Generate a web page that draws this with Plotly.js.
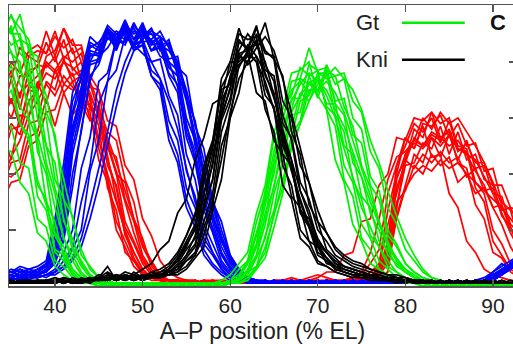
<!DOCTYPE html>
<html>
<head>
<meta charset="utf-8">
<script src="https://cdn.plot.ly/plotly-3.0.1.min.js"></script>
<style>
html, body { margin: 0; padding: 0; overflow: hidden; background: #fff; width: 513px; height: 344px; }
#chart { width: 520px; height: 344px; }
</style>
</head>
<body>
<div id="chart"></div>
<script>
// A-P position (% EL) of each sample
const apPosition = [34,35,36,37,38,39,40,41,42,43, 44,45,46,47,48,49,50,51,52,53,
  54,55,56,57,58,59,60,61,62,63, 64,65,66,67,68,69,70,71,72,73,
  74,75,76,77,78,79,80,81,82,83, 84,85,86,87,88,89,90,91,92,93];

// Hb (red) profiles, % of max
const hbProfiles = [
  [62,74,63,77,78,87,80,88,77,80, 66,57,35,27,12,9,4,3,2,2, 1,2,1,2,2,1,2,1,2,1, 2,1,2,2,1,2,1,2,2,1, 2,2,3,6,16,43,50,58,55,60, 51,59,49,48,35,30,16,11,6,4],
  [45,56,57,71,71,82,84,92,86,86, 73,65,45,35,18,12,6,3,2,2, 2,1,2,1,1,2,1,2,1,2, 1,2,1,1,2,1,2,1,2,2, 3,4,8,13,33,43,53,49,58,57, 61,53,58,50,51,41,42,30,27,16],
  [35,44,45,58,59,73,70,81,73,75, 63,60,43,36,21,15,8,4,3,2, 2,1,1,2,1,2,1,1,2,1, 2,1,2,1,1,2,2,1,1,2, 1,2,2,4,5,25,36,47,44,53, 46,54,45,52,42,43,33,32,22,19],
  [75,65,75,75,79,78,82,72,76,66, 62,45,37,20,14,7,4,2,2,1, 2,1,2,1,2,1,1,2,1,2, 1,2,2,1,2,2,3,5,5,11, 12,23,24,36,40,53,52,60,59,62, 53,55,44,42,29,24,12,10,5,3],
  [55,45,61,60,73,65,77,69,73,64, 65,53,52,40,37,24,17,7,4,2, 1,2,1,1,2,1,2,1,1,2, 1,1,2,1,2,1,1,2,1,1, 2,3,5,7,22,33,45,42,47,44, 48,44,46,39,42,34,35,27,28,21],
  [68,77,67,82,80,91,82,92,83,85, 75,70,50,40,23,16,9,5,3,2, 2,2,1,2,1,2,2,1,2,1, 2,1,1,2,1,2,1,2,1,2, 2,3,3,7,12,39,45,56,53,62, 58,60,50,49,37,33,20,15,8,6],
  [40,39,42,53,55,67,57,69,61,65, 59,61,49,46,31,23,11,6,3,2, 2,1,2,1,2,1,2,2,1,1, 2,1,1,2,1,1,2,1,2,1, 2,2,3,5,9,30,34,43,40,47, 43,46,37,40,33,35,28,29,20,19],
  [80,74,85,82,84,83,91,81,85,73, 68,49,39,23,16,9,5,3,2,2, 1,2,2,1,2,1,1,2,2,1, 1,2,1,2,2,1,2,1,1,2, 2,3,5,8,27,40,53,49,57,46, 47,33,28,16,12,6,4,3,2,2],
  [58,67,57,70,69,80,77,82,80,83, 71,70,59,57,43,38,24,18,9,5, 3,2,2,1,1,2,1,2,1,2, 1,2,1,2,1,1,2,2,1,2, 1,2,2,5,11,35,44,53,50,54, 52,56,48,51,44,44,36,36,28,27],
  [30,37,38,50,52,62,63,72,70,73, 63,64,55,52,38,30,15,9,4,2, 1,2,1,2,1,2,1,1,2,1, 2,1,2,1,2,1,2,1,1,2, 2,2,4,4,14,28,43,44,51,49, 57,47,55,45,47,38,36,25,21,13],
  [50,58,54,66,70,76,74,80,78,74, 69,60,50,41,30,19,10,5,3,2, 2,1,2,1,2,2,1,2,1,2, 1,2,2,3,2,3,4,3,2,2, 3,5,12,24,38,46,48,52,50,55, 53,50,52,47,45,39,33,26,19,13],
  [72,80,76,84,86,83,89,85,88,80, 72,62,46,31,19,10,5,3,2,2, 1,2,1,2,1,1,2,1,2,1, 2,1,2,1,1,2,1,2,1,2, 1,2,3,4,8,28,47,52,60,56, 62,58,60,55,50,44,37,29,21,15],
  [38,46,52,61,66,72,68,75,71,69, 60,52,40,30,20,12,6,3,2,2, 2,1,1,2,1,2,1,2,1,1, 2,1,2,1,2,1,1,2,2,1, 2,2,3,5,10,24,35,40,43,41, 45,42,44,40,37,34,31,28,24,20],
  [66,60,69,72,75,79,76,80,75,77, 68,61,53,44,34,24,14,8,4,2, 1,2,1,2,1,1,2,1,1,2, 1,2,1,1,2,1,2,1,2,1, 2,2,3,4,15,38,47,51,49,53, 50,54,49,47,41,36,28,22,14,9]
];

// Kr (blue) profiles
const krProfiles = [
  [3,4,3,5,4,6,14,26,53,65, 82,83,91,87,94,88,91,84,86,75, 69,47,38,22,15,8,4,2,2,1, 2,1,2,1,1,2,1,1,2,1, 1,2,1,1,2,1,1,2,1,1, 2,1,1,2,1,2,4,6,8,10],
  [2,3,4,3,4,5,9,16,40,55, 75,79,89,86,93,90,92,86,87,78, 75,55,46,29,21,11,6,3,2,2, 1,2,1,1,2,1,1,2,1,1, 2,1,1,2,1,1,2,1,1,2, 1,1,2,1,1,2,3,5,7,9],
  [4,5,4,6,5,7,18,33,61,71, 86,84,92,89,90,86,88,80,81,68, 61,41,32,17,12,6,3,2,1,2, 1,1,2,1,1,2,1,2,1,1, 2,1,1,2,1,1,2,1,1,2, 1,2,1,1,2,2,5,8,6,11],
  [2,2,3,4,3,4,6,12,20,42, 53,73,76,88,86,93,89,92,85,88, 78,75,57,49,30,23,11,6,3,2, 2,1,1,2,1,1,2,1,1,2, 1,1,2,1,1,2,1,1,2,1, 1,2,1,1,2,1,3,4,6,8],
  [5,4,6,5,6,8,22,40,66,74, 87,85,90,87,91,84,86,75,70,52, 44,28,21,11,7,4,2,2,1,1, 1,2,1,1,2,1,1,1,2,1, 1,2,1,1,1,2,1,1,2,1, 1,1,2,1,2,3,5,7,9,11],
  [3,3,4,3,5,5,10,19,47,61, 79,80,89,85,93,88,94,86,89,80, 77,60,52,33,25,14,8,4,2,1, 2,1,1,2,1,2,1,1,2,1, 1,1,2,1,2,1,1,2,1,1, 2,1,1,2,1,1,2,4,7,10],
  [2,3,2,4,3,4,5,7,13,20, 41,52,73,77,89,86,93,87,89,81, 82,67,59,40,31,16,10,5,3,2, 1,2,1,1,2,1,1,2,1,1, 2,1,1,1,2,1,2,1,1,2, 1,2,1,1,1,2,3,6,8,11],
  [4,6,5,6,7,9,24,44,69,76, 89,86,93,90,92,85,86,75,72,55, 47,31,23,13,8,5,3,2,2,1, 1,1,2,1,1,2,1,1,2,1, 1,2,1,2,1,1,1,2,1,1, 2,1,1,2,1,2,4,5,7,9],
  [3,4,3,4,4,6,11,22,50,63, 80,81,91,84,92,85,92,84,88,78, 75,57,48,31,23,12,7,3,2,2, 1,1,2,1,2,1,1,2,1,1, 1,1,2,1,1,2,1,1,2,1, 1,2,1,1,2,1,2,5,8,7],
  [2,2,3,3,3,4,5,9,14,30, 43,65,73,88,87,94,88,92,84,87, 75,69,50,41,24,17,9,5,2,1, 2,1,1,2,1,1,2,1,2,1, 1,2,1,1,2,1,1,2,1,1, 2,1,2,1,1,2,3,5,7,9],
  [5,5,6,4,6,7,15,29,57,68, 83,82,92,85,93,86,87,77,74,59, 52,35,28,15,11,6,3,2,2,1, 1,2,1,1,1,2,1,2,1,1, 2,1,1,2,1,1,2,1,1,1, 1,1,2,1,1,2,4,6,8,11],
  [3,3,4,5,4,6,12,24,55,67, 84,83,92,88,95,88,91,84,85,76, 72,53,44,27,19,9,5,3,2,1, 1,1,2,1,1,1,2,1,1,2, 1,1,1,2,1,1,2,1,2,1, 1,2,1,1,2,1,3,5,8,10],
  [4,3,5,4,5,7,13,30,55,70, 80,86,88,91,89,92,87,88,82,80, 71,58,45,30,20,12,6,3,2,1, 2,1,1,2,1,1,2,1,1,2, 1,1,2,1,1,1,2,1,1,2, 1,1,2,1,1,2,3,5,6,9],
  [3,4,3,5,4,5,8,17,35,56, 73,82,85,90,88,91,89,90,86,84, 79,68,54,41,28,18,10,5,3,2, 1,2,1,1,2,1,1,2,1,1, 2,1,1,2,1,1,1,2,1,1, 2,1,1,1,2,1,2,4,6,8],
  [6,5,7,6,5,8,18,38,62,75, 85,87,91,88,92,86,83,80,74,66, 56,42,30,20,12,7,4,2,2,1, 1,1,2,1,1,2,1,1,2,1, 1,2,1,1,2,1,1,1,2,1, 1,2,1,2,1,2,3,6,7,10],
  [2,3,2,3,3,4,4,6,9,14, 24,36,50,64,76,84,88,91,89,86, 80,70,58,44,31,20,11,6,3,2, 1,2,1,1,2,1,1,2,1,1, 2,1,1,2,1,1,1,2,1,1, 1,2,1,1,2,1,2,4,6,8],
  [3,2,3,2,4,3,5,7,10,17, 29,42,55,70,80,87,90,88,91,85, 77,66,52,38,26,16,9,5,3,2, 2,1,1,2,1,1,2,1,1,2, 1,1,2,1,1,2,1,1,1,2, 1,1,2,1,1,2,3,5,7,9]
];

// Gt (green) profiles
const gtProfiles = [
  [95,90,90,76,66,44,33,17,11,5, 2,1,1,0,1,1,0,1,1,0, 1,0,1,1,0,1,1,3,9,15, 34,44,64,68,78,75,77,63,57,38, 32,17,13,6,4,2,1,1,0,1, 1,0,1,0,1,1,0,1,0,1],
  [84,93,76,74,48,40,19,14,6,3, 1,1,0,1,0,1,1,0,1,1, 0,1,1,0,1,1,2,2,5,7, 18,27,44,53,66,68,76,74,75,64, 57,43,35,23,16,9,6,3,2,1, 1,1,0,1,0,1,1,0,1,0],
  [70,79,64,59,36,31,13,11,4,2, 1,0,1,1,0,1,0,1,1,0, 1,1,0,1,1,0,1,1,2,6, 10,21,33,50,58,70,70,77,75,76, 66,62,48,42,28,22,13,9,5,3, 2,1,1,0,1,0,1,1,0,1],
  [97,90,97,84,82,62,54,31,25,11, 7,3,2,1,1,0,1,1,0,1, 0,1,1,0,1,2,4,8,12,26, 36,55,63,76,77,80,68,63,45,37, 22,16,8,6,3,2,1,1,0,1, 0,1,1,0,1,0,1,0,1,1],
  [58,57,44,42,24,21,9,7,3,1, 1,0,1,0,1,1,0,1,0,1, 1,0,1,1,0,1,1,2,6,11, 26,35,53,56,69,66,74,65,65,50, 47,32,28,16,13,7,5,3,2,1, 1,0,1,1,0,1,0,1,1,0],
  [89,97,88,86,66,60,38,31,14,9, 4,2,1,1,0,1,1,0,1,0, 1,1,0,1,1,1,2,6,9,23, 33,53,59,73,74,85,76,76,61,55, 38,31,18,14,7,5,3,2,1,1, 0,1,1,0,1,1,0,1,0,1],
  [77,74,58,54,32,27,12,9,4,2, 1,1,0,1,0,1,1,0,1,1, 0,1,1,0,1,0,1,1,3,7, 12,26,35,54,59,73,69,79,72,74, 60,56,39,34,20,15,8,5,3,2, 1,1,0,1,1,0,1,0,1,0],
  [93,83,80,60,52,30,23,10,5,2, 1,1,0,1,1,0,1,0,1,0, 1,0,1,1,0,1,1,3,8,14, 29,40,58,63,74,72,75,64,61,43, 37,22,17,9,6,3,2,1,1,0, 1,0,1,0,1,1,0,1,1,0],
  [49,48,37,33,19,16,7,4,2,1, 1,0,1,0,1,0,1,1,0,1, 0,1,0,1,1,0,1,2,4,10, 17,33,43,61,62,75,67,77,66,67, 54,51,36,31,18,14,8,5,3,2, 1,1,0,1,0,1,1,0,1,0],
  [91,86,88,72,70,50,44,23,17,8, 4,2,1,1,0,1,0,1,1,0, 1,1,0,1,0,1,1,2,6,14, 24,43,51,67,67,79,77,78,65,61, 44,39,26,20,11,8,5,3,2,1, 1,0,1,1,0,1,0,1,0,1],
  [86,92,83,80,60,50,35,24,13,7, 3,2,1,1,0,1,0,1,0,1, 1,0,1,1,1,0,1,2,5,11, 22,36,48,62,68,72,70,73,69,62, 52,42,32,23,15,10,6,4,2,1, 1,1,0,1,1,0,1,1,0,1],
  [65,70,58,52,38,29,18,12,6,3, 1,1,0,1,0,1,1,0,1,0, 0,1,1,0,1,1,2,4,9,19, 30,45,56,66,72,76,73,70,63,57, 48,39,30,22,14,9,5,3,2,1, 0,1,1,0,1,0,1,0,1,1],
  [94,96,92,88,76,68,52,38,24,13, 6,3,1,1,1,0,1,0,1,1, 1,0,0,1,1,0,1,1,3,6, 14,25,38,49,58,66,72,75,78,74, 70,63,52,44,34,25,17,11,6,3, 2,1,1,0,1,1,0,1,0,1],
  [80,84,72,66,54,42,28,17,9,4, 2,1,1,0,1,1,0,1,0,1, 1,1,0,1,0,1,1,3,8,18, 32,48,60,70,73,69,74,68,60,49, 39,28,21,14,9,5,3,2,1,1, 1,0,1,1,0,1,1,0,1,0]
];

// Kni (black) profiles
const kniProfiles = [
  [1,2,1,2,1,2,3,2,1,3, 2,3,7,2,3,4,2,3,4,6, 9,15,20,38,49,71,77,90,88,89, 71,63,43,36,20,16,9,7,5,4, 3,4,3,2,3,2,2,1,2,1, 1,2,1,1,2,1,1,2,1,1],
  [2,1,2,1,2,1,2,3,2,2, 3,2,4,3,5,4,6,8,13,16, 26,31,45,53,65,67,80,80,83,69, 66,52,47,32,28,16,14,8,7,6, 5,4,4,3,3,2,2,2,1,2, 1,1,2,1,1,2,1,1,1,2],
  [1,1,2,1,1,2,1,2,2,1, 2,3,2,4,3,2,3,4,3,4, 6,10,14,27,38,61,70,87,85,93, 79,73,53,45,27,22,12,10,6,5, 4,3,3,3,2,2,2,1,1,2, 1,1,1,2,1,1,2,1,1,1],
  [2,1,1,2,1,1,2,1,2,1, 2,2,3,2,3,3,2,3,3,4, 4,6,10,14,27,38,60,69,85,86, 94,81,75,55,47,29,23,13,10,7, 6,5,4,3,3,3,2,2,1,2, 1,1,2,1,1,1,1,2,1,1],
  [1,2,1,1,2,2,1,3,2,2, 3,2,4,3,2,5,3,3,5,7, 11,18,25,43,52,70,72,83,79,82, 68,64,47,43,27,24,15,12,8,6, 5,4,3,3,3,2,2,2,1,1, 2,1,1,1,2,1,1,1,2,1],
  [2,1,2,2,1,2,1,2,1,2, 1,3,2,3,2,3,4,3,4,5, 8,13,17,33,43,66,73,88,84,87, 75,69,50,43,26,21,11,9,6,5, 4,4,3,2,2,2,1,2,1,1, 1,2,1,1,1,2,1,1,1,2],
  [1,2,1,2,2,1,2,1,3,2, 2,4,3,2,4,3,3,5,4,5, 7,11,15,28,38,59,67,83,84,92, 84,81,61,52,34,27,16,12,8,7, 6,5,4,4,3,2,2,2,2,1, 1,1,1,2,1,1,2,1,1,1],
  [2,1,1,1,2,1,2,2,1,2, 2,2,3,4,3,2,3,3,4,5, 6,9,12,23,33,55,65,82,80,88, 77,75,58,53,37,31,20,16,11,9, 7,6,5,4,3,3,2,2,2,1, 2,1,1,1,1,2,1,1,1,1],
  [1,1,2,1,2,2,1,2,2,1, 3,2,2,3,3,4,2,4,3,6, 10,16,22,41,51,74,80,92,83,80, 63,55,36,31,17,14,8,7,5,4, 3,3,2,2,2,1,2,1,1,1, 1,1,1,1,2,1,1,1,1,1],
  [2,2,1,2,1,2,2,1,2,1, 2,3,5,3,2,3,4,3,3,4, 5,9,11,21,29,50,60,79,82,90, 83,82,66,60,43,37,23,19,13,10, 8,7,6,5,4,3,3,2,2,1, 1,2,1,1,1,1,2,1,1,1],
  [2,1,2,1,2,1,1,2,1,2, 2,3,2,3,4,3,2,4,3,5, 7,11,18,29,44,62,75,84,90,86, 80,68,55,42,31,22,15,10,7,5, 4,4,3,2,2,2,1,2,1,1, 1,1,2,1,1,1,2,1,1,1],
  [1,2,1,2,1,2,2,1,2,2, 3,2,3,4,3,4,3,5,6,8, 12,18,26,37,50,64,74,81,86,82, 76,67,56,45,34,25,17,12,9,7, 6,5,4,3,3,2,2,2,1,1, 1,1,1,2,1,1,1,2,1,1],
  [2,1,1,2,1,2,1,2,1,1, 2,2,3,2,3,2,3,3,4,4, 5,7,11,18,30,45,62,74,80,85, 89,84,74,62,49,37,27,19,14,11, 9,8,6,5,4,4,3,2,2,2, 1,1,2,1,1,1,1,1,2,1],
  [1,1,2,1,2,1,2,1,2,2, 2,3,3,2,4,3,4,4,5,6, 9,14,21,33,47,60,71,78,84,80, 73,63,52,41,30,21,14,10,7,6, 5,4,3,3,2,2,2,1,1,1, 2,1,1,1,1,2,1,1,1,1]
];

const xTickVals = [40, 50, 60, 70, 80, 90];
const legendNames = ['Gt', 'Kni'];

const colors = { hb: 'rgb(255,0,0)', kr: 'rgb(0,0,255)', gt: 'rgb(0,240,0)', kni: '#000000' };
const legendColors = [colors.gt, colors.kni];
const traces = [];
function addGroup(profiles, color) {
  profiles.forEach(p => traces.push({
    x: apPosition, y: p, type: 'scatter', mode: 'lines',
    line: { color: color, width: 1.7 }, showlegend: false, hoverinfo: 'skip'
  }));
}
addGroup(hbProfiles, colors.hb);
addGroup(krProfiles, colors.kr);
addGroup(gtProfiles, colors.gt);
addGroup(kniProfiles, colors.kni);

const FONT = 'Liberation Sans, Arial, Helvetica, sans-serif';
const frame = '#555555';

const annotations = [];
const shapes = [];
legendNames.forEach((name, i) => {
  const yp = [0.937, 0.805][i];
  annotations.push({ xref: 'paper', yref: 'paper', x: 0.68, y: yp, xanchor: 'left', yanchor: 'middle',
    text: name, showarrow: false, font: { family: FONT, size: 22, color: '#222' } });
  shapes.push({ type: 'line', xref: 'paper', yref: 'paper', x0: 0.775, x1: 0.899, y0: yp, y1: yp,
    line: { color: legendColors[i], width: 2.6 } });
});
annotations.push({ xref: 'paper', yref: 'paper', x: 0.965, y: 0.937, xanchor: 'center', yanchor: 'middle',
  text: '<b>C</b>', showarrow: false, font: { family: FONT, size: 22, color: '#111' } });

const layout = {
  width: 520, height: 344,
  margin: { l: 9, r: 4, t: 5, b: 58 },
  paper_bgcolor: '#fff', plot_bgcolor: '#fff',
  showlegend: false,
  xaxis: {
    range: [34.75, 92.63], tickvals: xTickVals, ticktext: xTickVals.map(String),
    ticks: 'inside', ticklen: 7, tickwidth: 1.3, tickcolor: frame,
    showline: true, linecolor: frame, linewidth: 1.5, mirror: 'ticks',
    showgrid: false, zeroline: false,
    tickfont: { family: FONT, size: 21, color: '#222' },
    title: { text: 'A–P position (% EL)', font: { family: FONT, size: 23, color: '#222' }, standoff: 11 },
    automargin: false
  },
  yaxis: {
    range: [0, 100.3], tick0: 0, dtick: 20,
    ticks: 'inside', ticklen: 7, tickwidth: 1.3, tickcolor: frame,
    showline: true, linecolor: frame, linewidth: 1.5, mirror: 'ticks',
    showgrid: false, zeroline: false, showticklabels: false, automargin: false
  },
  annotations: annotations,
  shapes: shapes
};

Plotly.newPlot('chart', traces, layout, { staticPlot: true, displayModeBar: false });
</script>
</body>
</html>
